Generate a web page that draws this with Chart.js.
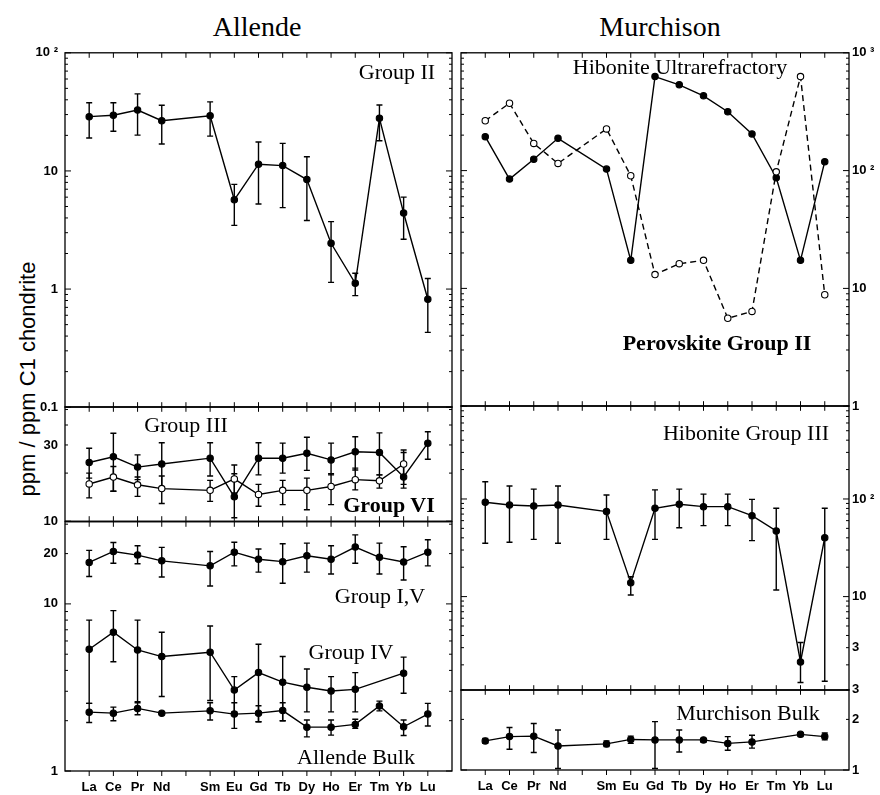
<!DOCTYPE html>
<html>
<head>
<meta charset="utf-8">
<script src="https://cdn.jsdelivr.net/npm/chart.js@4.4.1/dist/chart.umd.min.js"></script>
<style>
  body { margin: 0; background: #fff; width: 880px; height: 795px; position: relative; overflow: hidden; }
  canvas.panel { position: absolute; left: 0; }
  .lbl { position: absolute; font-family: "Liberation Serif", "Times New Roman", serif; font-size: 22px;
         line-height: 1; color: #000; white-space: nowrap; transform: translate(-50%, -50%); }
  .ttl { font-size: 28px; }
  .bold { font-weight: bold; }
  .ytitle { position: absolute; left: 28px; top: 379px; font-family: "Liberation Sans", Arial, sans-serif;
            font-size: 22px; line-height: 1; white-space: nowrap; transform: translate(-50%, -50%) rotate(-90deg); }
</style>
</head>
<body>
<div class="lbl ttl" style="left:257px;top:27px">Allende</div>
<div class="lbl ttl" style="left:660px;top:27px">Murchison</div>
<div class="ytitle">ppm / ppm C1 chondrite</div>

<canvas class="panel" id="lt"></canvas>
<canvas class="panel" id="lm"></canvas>
<canvas class="panel" id="lb"></canvas>
<canvas class="panel" id="rt"></canvas>
<canvas class="panel" id="rm"></canvas>
<canvas class="panel" id="rb"></canvas>

<div class="lbl" style="left:397px;top:72px">Group II</div>
<div class="lbl" style="left:680px;top:67px">Hibonite Ultrarefractory</div>
<div class="lbl bold" style="left:717px;top:343px">Perovskite Group II</div>
<div class="lbl" style="left:186px;top:425px">Group III</div>
<div class="lbl bold" style="left:389px;top:505px">Group VI</div>
<div class="lbl" style="left:380px;top:596px">Group I,V</div>
<div class="lbl" style="left:351px;top:652px">Group IV</div>
<div class="lbl" style="left:356px;top:757px">Allende Bulk</div>
<div class="lbl" style="left:746px;top:433px">Hibonite Group III</div>
<div class="lbl" style="left:748px;top:713px">Murchison Bulk</div>

<script>
// REE order, Pm has no data (blank slot)
const categories = ['La', 'Ce', 'Pr', 'Nd', '', 'Sm', 'Eu', 'Gd', 'Tb', 'Dy', 'Ho', 'Er', 'Tm', 'Yb', 'Lu'];

// Allende
const groupII   = [28.8, 29.6, 32.8, 26.6, null, 29.3, 5.7, 11.4, 11.1, 8.45, 2.44, 1.12, 27.9, 4.4, 0.82];
const groupIIHi = [37.8, 37.8, 44.9, 36, null, 38.4, 7.7, 17.6, 17.1, 13.2, 3.72, 1.36, 36.1, 6.0, 1.23];
const groupIILo = [19.0, 21.7, 20.1, 16.9, null, 19.7, 3.46, 5.25, 4.89, 3.81, 1.14, 0.88, 18.0, 2.64, 0.43];

const groupIII   = [23.3, 25.3, 21.8, 22.8, null, 24.8, 14.2, 24.8, 24.8, 26.6, 24.2, 27.2, 26.9, 18.9, 30.8];
const groupIIIHi = [28.6, 35.5, 26, 31, null, 31, 19.8, 31, 30.8, 33.5, 30.8, 33.8, 35.7, 27.9, 36.3];
const groupIIILo = [18.6, 15.4, 18.2, 16.1, null, 19.2, 10.5, 19.5, 20, 20.8, 19.5, 20.9, 19.5, 16.1, 24.4];

const groupVI   = [17.1, 18.9, 16.9, 16.0, null, 15.6, 18.4, 14.7, 15.6, 15.6, 16.5, 18.2, 17.9, 22.8, null];
const groupVIHi = [20, 22, 18.9, 19.2, null, 18, 22.5, 17, 18, 18.6, 19.8, 21.5, 19.5, 26.9, null];
const groupVILo = [14, 15.4, 14.3, 12.9, null, 13.3, 15, 12.4, 12.7, 11.8, 12.7, 15.7, 16.1, 17, null];

const groupIV_V   = [17.7, 20.6, 19.6, 18.1, null, 16.9, 20.4, 18.5, 17.9, 19.4, 18.5, 21.9, 19.0, 17.8, 20.4];
const groupIV_VHi = [20.9, 23.3, 22.3, 21.8, null, 20.6, 23.4, 21.3, 22.9, 23.1, 22.3, 25.9, 23.1, 22, 24.2];
const groupIV_VLo = [14.6, 17.5, 17.4, 14.5, null, 12.8, 16.9, 15.5, 13.3, 15.5, 15.1, 17.5, 15.1, 13.9, 16.9];

const groupIV   = [5.35, 6.77, 5.3, 4.84, null, 5.14, 3.05, 3.88, 3.4, 3.17, 3.01, 3.08, null, 3.85, null];
const groupIVHi = [8.0, 9.12, 8.0, 6.77, null, 7.38, 3.67, 5.74, 4.84, 4.08, 3.67, 3.88, null, 4.8, null];
const groupIVLo = [2.54, 4.51, 2.56, 2.79, null, 2.64, 2.26, 1.97, 2.0, 2.26, 2.26, 2.26, null, 2.92, null];

const allendeBulk   = [2.25, 2.22, 2.37, 2.22, null, 2.29, 2.19, 2.22, 2.3, 1.83, 1.83, 1.9, 2.45, 1.84, 2.19];
const allendeBulkHi = [2.54, 2.41, 2.6, null, null, 2.56, 2.56, 2.46, 2.56, 2.02, 2.02, 2.04, 2.62, 2.02, 2.54];
const allendeBulkLo = [1.95, 2.0, 2.17, null, null, 2.02, 1.8, 1.97, 2.0, 1.6, 1.64, 1.8, 2.29, 1.63, 1.86];

// Murchison
const hibUltra = [194, 84.7, 125, 188, null, 103, 17.3, 628, 535, 431, 316, 205, 87, 17.3, 119];
const perovII  = [265, 373, 170, 115, null, 226, 90.4, 13.1, 16.2, 17.3, 5.58, 6.37, 97.7, 628, 8.83];

const hibIII   = [92.5, 86.7, 84.7, 86.7, null, 74.2, 13.9, 80.3, 88.3, 83.4, 83.4, 67.4, 47, 2.14, 40.1];
const hibIIIHi = [150, 136, 126, 136, null, 110, 16, 124, 126, 112, 112, 99, 80.3, 3.39, 80.3];
const hibIIILo = [35.2, 36, 38.6, 35.2, null, 38.6, 10.4, 38.6, 50.8, 53.3, 53.3, 37.4, 11.7, 1.32, 1.36];

const murchBulk   = [1.49, 1.58, 1.59, 1.39, null, 1.43, 1.52, 1.51, 1.51, 1.51, 1.44, 1.47, null, 1.63, 1.58];
const murchBulkHi = [1.54, 1.79, 1.89, 1.73, null, 1.49, 1.59, 1.94, 1.73, 1.54, 1.58, 1.61, null, 1.66, 1.66];
const murchBulkLo = [1.44, 1.33, 1.27, 1.02, null, 1.38, 1.44, 1.02, 1.28, 1.46, 1.31, 1.35, null, 1.58, 1.51];

// y tick labels per panel
const ticksLT = [[100, '10 ²'], [10, '10'], [1, '1'], [0.1, '0.1']];
const ticksLM = [[30, '30'], [10, '10']];
const ticksLB = [[20, '20'], [10, '10'], [1, '1']];
const ticksRT = [[1000, '10 ³'], [100, '10 ²'], [10, '10'], [1, '1']];
const ticksRM = [[100, '10 ²'], [10, '10'], [3, '3']];
const ticksRB = [[3, '3'], [2, '2'], [1, '1']];

const tickFont = { family: '"Liberation Sans", Arial, sans-serif', size: 13, weight: 'bold' };

function toPoints(vals, hi, lo) {
  const pts = [];
  vals.forEach((v, i) => {
    if (v == null) return;
    pts.push({ x: i + 1, y: v, hi: hi ? hi[i] : null, lo: lo ? lo[i] : null });
  });
  return pts;
}

function series(vals, hi, lo, open = false, dashed = false) {
  return {
    data: toPoints(vals, hi, lo),
    borderColor: '#000',
    borderWidth: 1.4,
    borderDash: dashed ? [6, 4] : [],
    pointRadius: 3.2,
    pointBackgroundColor: open ? '#fff' : '#000',
    pointBorderColor: '#000',
    pointBorderWidth: 1.1,
    tension: 0,
    fill: false
  };
}

// frame + inward tick marks
const frameTicks = {
  id: 'frameTicks',
  afterDraw(chart) {
    const { ctx, chartArea: a, scales } = chart;
    const xs = scales.x, ys = scales.y;
    ctx.save();
    ctx.strokeStyle = '#000';
    ctx.lineWidth = 1.3;
    ctx.strokeRect(a.left, a.top, a.right - a.left, a.bottom - a.top);
    ctx.lineWidth = 1;
    ctx.beginPath();
    categories.forEach((c, i) => {
      const px = xs.getPixelForValue(i + 1);
      ctx.moveTo(px, a.top); ctx.lineTo(px, a.top + 5);
      if (chart.options.showX) { ctx.moveTo(px, a.bottom); ctx.lineTo(px, a.bottom + 5); }
      else { ctx.moveTo(px, a.bottom); ctx.lineTo(px, a.bottom - 5); }
    });
    const lo = Math.floor(Math.log10(ys.min)), hi = Math.ceil(Math.log10(ys.max));
    for (let d = lo; d <= hi; d++) {
      for (let m = 1; m <= 9; m++) {
        const v = m * Math.pow(10, d);
        if (v < ys.min * 0.999 || v > ys.max * 1.001) continue;
        const py = ys.getPixelForValue(v);
        const len = m === 1 ? 6 : 3;
        ctx.moveTo(a.left, py); ctx.lineTo(a.left + len, py);
        ctx.moveTo(a.right, py); ctx.lineTo(a.right - len, py);
      }
    }
    ctx.stroke();
    ctx.restore();
  }
};

// vertical error bars with caps
const errorBars = {
  id: 'errorBars',
  beforeDatasetsDraw(chart) {
    const { ctx, scales } = chart;
    ctx.save();
    ctx.strokeStyle = '#000';
    ctx.lineWidth = 1.4;
    ctx.setLineDash([]);
    chart.data.datasets.forEach((ds, di) => {
      const meta = chart.getDatasetMeta(di);
      ds.data.forEach((p, i) => {
        if (p.hi == null || p.lo == null) return;
        const px = meta.data[i].x;
        const yh = scales.y.getPixelForValue(p.hi);
        const yl = scales.y.getPixelForValue(p.lo);
        ctx.beginPath();
        ctx.moveTo(px, yh); ctx.lineTo(px, yl);
        ctx.moveTo(px - 3, yh); ctx.lineTo(px + 3, yh);
        ctx.moveTo(px - 3, yl); ctx.lineTo(px + 3, yl);
        ctx.stroke();
      });
    });
    ctx.restore();
  }
};

function buildChart(canvas, cfg, h) {
  canvas.width = 880;
  canvas.height = h;
  canvas.style.width = '880px';
  canvas.style.height = h + 'px';
  const isLeft = cfg.side === 'left';
  const labelMap = new Map(cfg.ticks);
  const xAxisH = cfg.showX ? 26 : 0;

  return new Chart(canvas, {
    type: 'line',
    data: { datasets: cfg.datasets },
    options: {
      responsive: false,
      maintainAspectRatio: false,
      animation: false,
      devicePixelRatio: 1,
      showX: cfg.showX,
      layout: { padding: { top: 10, bottom: cfg.showX ? 0 : 10, left: isLeft ? 0 : 461, right: isLeft ? 880 - 452 : 0 } },
      plugins: { legend: { display: false }, tooltip: { enabled: false } },
      scales: {
        x: {
          type: 'linear', min: 0, max: 16, display: cfg.showX,
          grid: { display: false, drawTicks: false }, border: { display: false },
          afterBuildTicks: s => { s.ticks = categories.map((c, i) => ({ value: i + 1 })); },
          afterFit: s => { s.height = xAxisH; },
          ticks: { autoSkip: false, maxRotation: 0, padding: 9, color: '#000', font: tickFont,
                   callback: v => categories[v - 1] || '' }
        },
        y: {
          type: 'logarithmic', position: cfg.side, min: cfg.min, max: cfg.max,
          grid: { display: false, drawTicks: false }, border: { display: false },
          afterBuildTicks: s => { s.ticks = cfg.ticks.map(t => ({ value: t[0] })); },
          afterFit: s => { s.width = isLeft ? 65 : 31; },
          ticks: { padding: isLeft ? 7 : 3, color: '#000', font: tickFont, callback: v => labelMap.get(v) ?? '' }
        }
      }
    },
    plugins: [frameTicks, errorBars]
  });
}

// build once, measure the plot area, rebuild so the frame lands exactly on the wanted rows
function makePanel(id, cfg) {
  const canvas = document.getElementById(id);
  const wantH = cfg.bottom - cfg.top;
  let h = Math.round(wantH) + 20 + (cfg.showX ? 26 : 0);
  let chart = buildChart(canvas, cfg, h);
  const gotH = chart.chartArea.bottom - chart.chartArea.top;
  if (Math.abs(gotH - wantH) > 0.25) {
    chart.destroy();
    h = Math.round(h + wantH - gotH);
    chart = buildChart(canvas, cfg, h);
  }
  canvas.style.top = (cfg.top - chart.chartArea.top) + 'px';
  return chart;
}

makePanel('lt', { side: 'left', top: 53, bottom: 407, min: 0.1, max: 100, ticks: ticksLT, showX: false,
  datasets: [series(groupII, groupIIHi, groupIILo)] });
makePanel('lm', { side: 'left', top: 407, bottom: 521.5, min: 10, max: 52, ticks: ticksLM, showX: false,
  datasets: [series(groupVI, groupVIHi, groupVILo, true), series(groupIII, groupIIIHi, groupIIILo)] });
makePanel('lb', { side: 'left', top: 521.5, bottom: 771, min: 1, max: 31, ticks: ticksLB, showX: true,
  datasets: [series(groupIV_V, groupIV_VHi, groupIV_VLo), series(groupIV, groupIVHi, groupIVLo),
             series(allendeBulk, allendeBulkHi, allendeBulkLo)] });
makePanel('rt', { side: 'right', top: 53, bottom: 406, min: 1, max: 1000, ticks: ticksRT, showX: false,
  datasets: [series(perovII, null, null, true, true), series(hibUltra)] });
makePanel('rm', { side: 'right', top: 406, bottom: 690, min: 1.1, max: 900, ticks: ticksRM, showX: false,
  datasets: [series(hibIII, hibIIIHi, hibIIILo)] });
makePanel('rb', { side: 'right', top: 690, bottom: 770, min: 1, max: 3, ticks: ticksRB, showX: true,
  datasets: [series(murchBulk, murchBulkHi, murchBulkLo)] });
</script>
</body>
</html>
